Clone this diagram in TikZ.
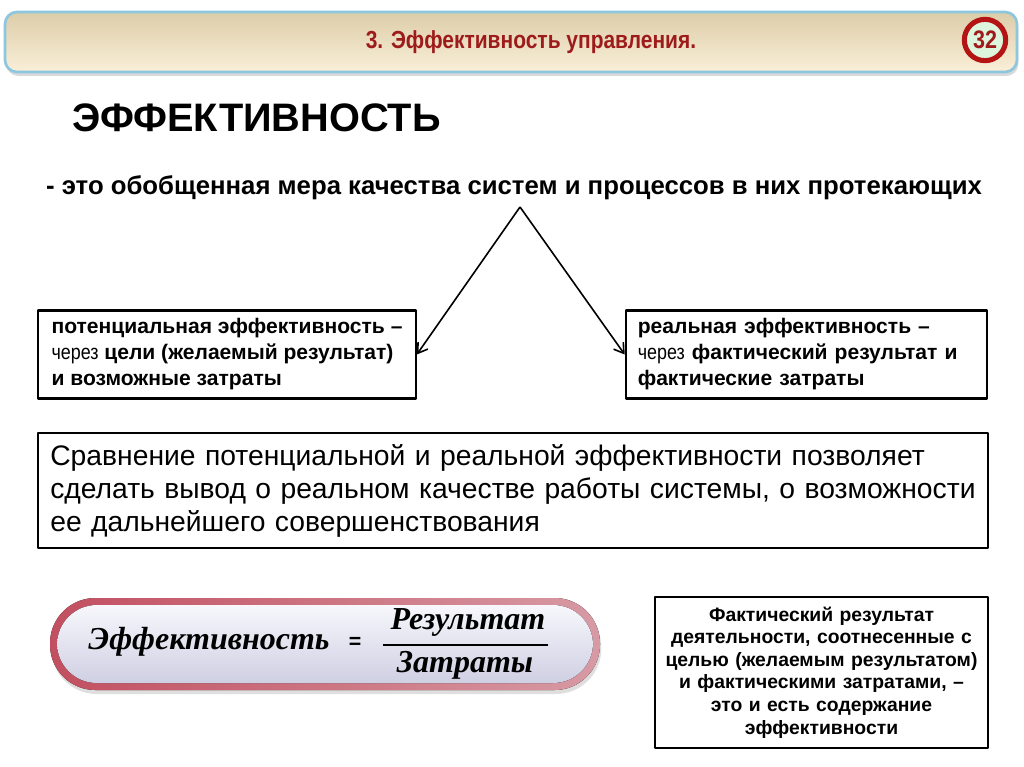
\documentclass[tikz,border=0pt]{standalone}
\usepackage{fontspec}
\setmainfont{Liberation Sans}
\newfontfamily\formulafont{Liberation Serif}
\newfontfamily\narrowfont{Liberation Sans}[FakeStretch=0.85]
\newcommand\litefont{\narrowfont\mdseries}
\usetikzlibrary{positioning,arrows.meta,shadows}
\definecolor{titlered}{HTML}{9E1B1B}
\definecolor{circred}{HTML}{B41414}
\definecolor{circgreen}{HTML}{DDF5DC}
\definecolor{barblue}{HTML}{8DC6DF}
\definecolor{bartop}{HTML}{DCCDA9}
\definecolor{barbot}{HTML}{FAEFD8}
\definecolor{pillrim}{HTML}{C24F60}
\definecolor{pillrimb}{HTML}{D79AA4}
\definecolor{pilltop}{HTML}{F7F7FC}
\definecolor{pillbot}{HTML}{CFCFE3}
\begin{document}
\begin{tikzpicture}[x=0.75pt,y=-0.75pt,line join=round,
    box/.style={draw,line width=1.7pt,inner xsep=9pt,inner ysep=4pt,align=left,
      font=\fontsize{15.8}{19.5}\selectfont\bfseries},
    notebox/.style={draw,line width=1.2pt,align=center,inner xsep=4pt,
      font=\fontsize{14.5}{16.9}\selectfont\bfseries},
    ftext/.style={font=\formulafont\bfseries\itshape\fontsize{24}{26}\selectfont}]
  \useasboundingbox (0,0) rectangle (1024,767);
  % title bar
  \draw[barblue,line width=2pt,rounded corners=9pt,top color=bartop,bottom color=barbot,
    drop shadow={shadow xshift=1pt,shadow yshift=-3pt,opacity=0.3}] (5,12) rectangle (1017,72);
  \node[font=\narrowfont\bfseries\fontsize{18.5}{21}\selectfont,text=titlered] (title) at (531,42) {3. Эффективность управления.};
  \node[circle,draw=circred,line width=3.8pt,fill=circgreen,minimum size=31pt,inner sep=0pt,
    text=titlered,font=\narrowfont\bfseries\fontsize{19}{21}\selectfont] (num) at (985,40) {32};
  % heading and definition
  \node[anchor=west,inner sep=0pt,font=\fontsize{29.8}{34}\selectfont\bfseries] (head) at (72,118) {ЭФФЕКТИВНОСТЬ};
  \node[font=\fontsize{19.3}{22}\selectfont\bfseries] (def) at (514,188) {- это обобщенная мера качества систем и процессов в них протекающих};
  \coordinate (apex) at (520,207);
  % two kinds of efficiency
  \node[box,minimum width=283pt,minimum height=66pt] (pot) at (227,354.5)
    {потенциальная эффективность –\\{\litefont через} цели (желаемый результат)\\и возможные затраты};
  \node[box,text width=253pt,minimum height=66pt] (real) at (806.5,354.5)
    {реальная эффективность –\\{\litefont через} фактический результат и\\фактические затраты};
  \draw[-{Straight Barb[length=7pt,width=9pt]},line width=1.2pt] (apex) -- (pot.east);
  \draw[-{Straight Barb[length=7pt,width=9pt]},line width=1.2pt] (apex) -- (real.west);
  % comparison
  \node[box,text width=694pt,minimum height=86pt,inner xsep=9pt,
    font=\fontsize{21.2}{24.75}\selectfont\mdseries] (cmp) at (513,490.5)
    {Сравнение потенциальной и реальной эффективности позволяет\\сделать вывод о реальном качестве работы системы, о возможности\\ее дальнейшего совершенствования};
  % formula
  \fill[left color=pillrim,right color=pillrimb,rounded corners=34pt,
    drop shadow={shadow xshift=1pt,shadow yshift=-3pt,opacity=0.25}] (50,598) rectangle (600,690);
  \fill[top color=pilltop,bottom color=pillbot,rounded corners=30pt] (57,605) rectangle (593,683);
  \node[ftext] (eff) at (209,642) {Эффективность};
  \node[font=\bfseries\fontsize{16}{18}\selectfont] (eq) at (355,643) {=};
  \node[ftext] (res) at (468,622) {Результат};
  \node[ftext] (cost) at (465,665) {Затраты};
  \draw[line width=1.5pt] (383,645) -- (548,645);
  % note
  \node[notebox,text width=242pt,minimum height=113pt] (note) at (821.5,672.5)
    {Фактический результат\\деятельности, соотнесенные с\\целью (желаемым результатом)\\и фактическими затратами, –\\это и есть содержание\\эффективности};
\end{tikzpicture}
\end{document}
